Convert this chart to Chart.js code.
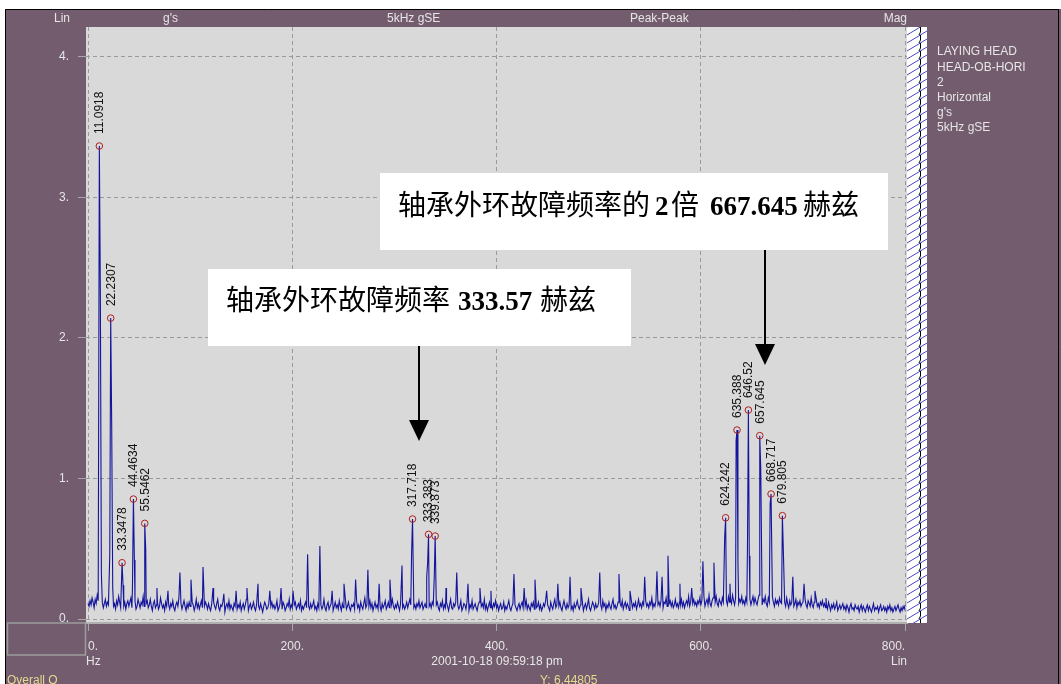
<!DOCTYPE html>
<html>
<head>
<meta charset="utf-8">
<script src="https://cdn.jsdelivr.net/npm/chart.js@4/dist/chart.umd.min.js"></script>
<style>
  html, body { margin: 0; padding: 0; background: #ffffff; overflow: hidden; }
  canvas { display: block; }
</style>
</head>
<body>
<canvas id="spectrum" width="1061" height="684"></canvas>
<script>
// Spectrum of the laying head bearing, HEAD-OB-HORI, 5kHz gSE envelope, peak-peak

// Labelled peaks (Hz, g's)
const peakFreqs = [11.0918, 22.2307, 33.3478, 44.4634, 55.5462, 317.718, 333.383, 339.873,
                   624.242, 635.388, 646.52, 657.645, 668.717, 679.805];
const peakAmps  = [3.364, 2.14, 0.40, 0.853, 0.68, 0.711, 0.602, 0.59,
                   0.72, 1.344, 1.486, 1.304, 0.889, 0.735];

// Unlabelled lines: neighbouring bins of the peaks and the smaller harmonics (Hz, g's)
const lineFreqs = [12.1, 13.1, 21.3, 23.2, 24.2, 34.3, 43.5, 45.4, 56.5,
                   67.5, 78.3, 90.0, 100.8, 112.6, 122.4, 133.0, 145.0, 155.6, 166.4, 178.0, 189.0, 200.7,
                   215.0, 227.0, 239.0, 250.6, 262.0, 274.0, 285.0, 295.6, 307.4, 316.8,
                   331.6, 332.5, 339.0, 350.5, 361.0, 372.0, 383.7, 394.5, 417.0, 427.0, 437.6,
                   449.0, 460.0, 471.9, 482.6, 501.0, 519.8, 530.6, 545.0, 557.0, 562.0, 567.8,
                   579.5, 591.0, 602.0, 612.8, 623.3, 628.5, 634.5, 636.3, 645.6, 647.4, 658.6,
                   667.8, 680.7, 690.0, 701.0, 711.7, 722.5];
const lineAmps  = [2.30, 0.32, 0.45, 1.38, 0.22, 0.24, 0.22, 0.42, 0.50,
                   0.22, 0.20, 0.33, 0.28, 0.37, 0.22, 0.18, 0.20, 0.22, 0.25, 0.20, 0.22, 0.20,
                   0.46, 0.52, 0.20, 0.25, 0.28, 0.35, 0.25, 0.28, 0.38, 0.47,
                   0.30, 0.40, 0.30, 0.22, 0.33, 0.25, 0.22, 0.20, 0.32, 0.22, 0.28,
                   0.20, 0.25, 0.30, 0.22, 0.33, 0.32, 0.20, 0.30, 0.34, 0.30, 0.45,
                   0.25, 0.22, 0.41, 0.40, 0.58, 0.25, 1.27, 0.40, 0.50, 0.45, 1.08,
                   0.82, 0.50, 0.30, 0.25, 0.20, 0.15];

// Noise floor, one value per 1 Hz bin from 0 to 800 Hz (g's)
const floorStepHz = 1;
const floorAmps = [
  .11,.09,.13,.10,.15,.12,.08,.14,.11,.17,.13,.10,.09,.16,.12,.08,.11,.14,.09,.12,
  .10,.13,.08,.12,.15,.09,.11,.07,.13,.10,.16,.12,.08,.10,.14,.09,.12,.07,.11,.13,
  .09,.12,.15,.08,.11,.10,.13,.07,.09,.14,.11,.08,.12,.10,.16,.09,.07,.11,.13,.08,
  .10,.14,.09,.06,.11,.13,.08,.10,.12,.07,.09,.15,.11,.08,.10,.06,.12,.09,.14,.10,
  .07,.11,.09,.13,.08,.06,.10,.12,.09,.15,.08,.11,.07,.10,.13,.09,.06,.11,.08,.12,
  .09,.07,.12,.10,.06,.09,.14,.08,.11,.07,.10,.13,.08,.06,.09,.12,.10,.07,.11,.08,
  .06,.10,.08,.12,.09,.07,.11,.14,.08,.06,.10,.09,.12,.07,.05,.09,.11,.08,.13,.07,
  .10,.08,.06,.11,.09,.13,.07,.10,.08,.12,.06,.09,.11,.07,.10,.14,.08,.06,.09,.11,
  .07,.09,.12,.08,.06,.10,.13,.09,.07,.11,.08,.05,.09,.12,.10,.07,.08,.11,.06,.09,
  .12,.08,.10,.07,.09,.13,.06,.08,.11,.09,.07,.12,.10,.06,.08,.11,.09,.14,.07,.10,
  .08,.06,.10,.12,.07,.09,.11,.08,.13,.06,.09,.07,.10,.12,.08,.15,.09,.07,.11,.08,
  .10,.13,.07,.09,.06,.11,.08,.12,.10,.07,.09,.14,.08,.06,.10,.12,.07,.09,.11,.08,
  .06,.09,.12,.08,.10,.07,.13,.09,.06,.11,.08,.10,.14,.07,.09,.12,.08,.06,.10,.09,
  .11,.07,.09,.13,.08,.10,.06,.12,.09,.07,.11,.15,.08,.10,.07,.09,.13,.08,.11,.06,
  .09,.12,.08,.10,.07,.14,.09,.06,.11,.08,.10,.13,.07,.09,.12,.08,.06,.10,.14,.09,
  .07,.10,.08,.12,.09,.06,.11,.13,.08,.10,.07,.09,.12,.08,.11,.14,.10,.09,.12,.08,
  .10,.07,.11,.09,.13,.08,.10,.12,.07,.09,.11,.08,.10,.13,.09,.11,.08,.12,.10,.09,
  .07,.10,.12,.08,.06,.11,.09,.13,.07,.10,.08,.12,.09,.06,.10,.14,.08,.07,.11,.09,
  .12,.08,.10,.07,.09,.13,.06,.08,.11,.10,.07,.12,.09,.06,.10,.08,.13,.07,.09,.11,
  .08,.06,.10,.12,.07,.09,.11,.08,.14,.07,.10,.06,.09,.12,.08,.10,.07,.11,.09,.13,
  .08,.10,.06,.09,.11,.07,.08,.12,.06,.09,.07,.10,.13,.08,.06,.09,.11,.07,.10,.08,
  .06,.09,.11,.07,.10,.12,.08,.06,.09,.13,.07,.10,.08,.06,.11,.09,.12,.07,.10,.08,
  .09,.12,.07,.10,.06,.08,.11,.09,.13,.07,.10,.08,.06,.12,.09,.07,.11,.14,.08,.10,
  .07,.09,.12,.08,.06,.10,.13,.09,.07,.11,.08,.10,.12,.07,.09,.06,.11,.08,.10,.13,
  .09,.07,.10,.08,.12,.06,.09,.11,.07,.10,.14,.08,.06,.09,.12,.10,.07,.11,.08,.09,
  .12,.08,.10,.07,.13,.09,.11,.06,.10,.08,.12,.09,.07,.11,.14,.08,.10,.07,.09,.12,
  .08,.11,.09,.13,.07,.10,.12,.08,.11,.09,.06,.10,.13,.08,.11,.09,.12,.07,.10,.14,
  .09,.11,.08,.12,.10,.07,.13,.09,.11,.08,.12,.10,.15,.08,.11,.09,.13,.07,.10,.12,
  .09,.13,.10,.08,.12,.11,.15,.09,.07,.11,.13,.09,.12,.08,.10,.14,.09,.11,.08,.12,
  .10,.14,.09,.12,.08,.11,.13,.10,.16,.09,.12,.08,.11,.14,.10,.12,.09,.13,.11,.15,
  .10,.13,.11,.16,.09,.12,.14,.10,.17,.11,.09,.13,.15,.10,.12,.16,.11,.09,.14,.12,
  .10,.15,.12,.18,.11,.13,.10,.16,.12,.14,.11,.17,.13,.10,.15,.12,.18,.11,.14,.12,
  .16,.11,.13,.10,.15,.12,.17,.11,.14,.10,.13,.16,.11,.15,.12,.10,.14,.17,.11,.13,
  .10,.14,.12,.16,.11,.09,.15,.12,.13,.10,.16,.12,.09,.14,.11,.13,.10,.15,.12,.11,
  .14,.10,.12,.09,.15,.11,.08,.13,.10,.12,.16,.09,.11,.14,.08,.12,.10,.13,.09,.11,
  .12,.09,.14,.10,.08,.13,.11,.09,.15,.10,.08,.12,.10,.14,.09,.11,.08,.12,.10,.13,
  .09,.11,.08,.10,.07,.12,.09,.06,.10,.08,.11,.07,.09,.12,.06,.08,.10,.07,.09,.11,
  .07,.09,.06,.10,.08,.05,.09,.11,.07,.08,.06,.10,.08,.07,.09,.05,.08,.10,.06,.09,
  .07,.05,.08,.10,.06,.09,.07,.05,.08,.11,.06,.08,.07,.09,.05,.08,.10,.06,.07,.09,
  .06,.08,.05,.09,.07,.10,.06,.08,.05,.07,.09,.06,.08,.10,.07,.05,.08,.06,.09,.07,
  .10
];

// Axis ticks
const freqTicks = [0, 200, 400, 600, 800];
const ampTicks  = [0, 1, 2, 3, 4];

// Header and side captions
const headerTexts = [['Lin', 70, 'right'], ["g's", 163, 'left'], ['5kHz gSE', 387, 'left'],
                     ['Peak-Peak', 630, 'left'], ['Mag', 907, 'right']];
const pointInfo = ['LAYING HEAD', 'HEAD-OB-HORI', '2', 'Horizontal', "g's", '5kHz gSE'];

// Build the trace: floor bins plus the measured lines, sorted by frequency
function buildTrace() {
  const lines = [];
  peakFreqs.forEach((f, i) => lines.push({ x: f, y: peakAmps[i] }));
  lineFreqs.forEach((f, i) => lines.push({ x: f, y: lineAmps[i] }));
  const pts = lines.slice();
  floorAmps.forEach((a, i) => {
    const f = i * floorStepHz;
    if (!lines.some(p => Math.abs(p.x - f) < 0.5)) pts.push({ x: f, y: a });
  });
  pts.sort((p, q) => p.x - q.x);
  return pts;
}

const PURPLE = '#735c6e';
const PLOT_BG = '#d9d9d9';
const TEXT_LIGHT = '#e6e6e6';
const TEXT_YELLOW = '#e6d98f';
const UI_FONT = '"Liberation Sans", Arial, sans-serif';

const framePlugin = {
  id: 'frame',
  beforeDraw(chart) {
    const { ctx, chartArea: a, width, height } = chart;
    ctx.save();
    ctx.fillStyle = '#ffffff';
    ctx.fillRect(0, 0, width, height);
    ctx.fillStyle = PURPLE;
    ctx.fillRect(5, 9, width - 5, height - 9);
    ctx.strokeStyle = '#000000';
    ctx.lineWidth = 1;
    ctx.beginPath();
    ctx.moveTo(5.5, height); ctx.lineTo(5.5, 9.5); ctx.lineTo(1058.5, 9.5); ctx.lineTo(1058.5, height);
    ctx.stroke();
    ctx.fillStyle = PLOT_BG;
    ctx.fillRect(a.left, a.top, a.right - a.left, a.bottom - a.top);
    ctx.restore();
  }
};

const decorPlugin = {
  id: 'decor',
  afterDraw(chart) {
    const { ctx, chartArea: a } = chart;
    const xs = chart.scales.x, ys = chart.scales.y;
    ctx.save();

    // hatched strip right of the plot
    const sx = a.right, sw = 20;
    ctx.fillStyle = '#ffffff';
    ctx.fillRect(sx, a.top, sw, a.bottom - a.top);
    ctx.save();
    ctx.beginPath(); ctx.rect(sx, a.top, sw, a.bottom - a.top); ctx.clip();
    ctx.strokeStyle = '#4848c0';
    ctx.lineWidth = 1;
    for (let y = a.top - 20; y < a.bottom + 20; y += 8) {
      ctx.beginPath(); ctx.moveTo(sx, y + 12); ctx.lineTo(sx + sw, y); ctx.stroke();
    }
    ctx.strokeStyle = '#000000';
    ctx.beginPath();
    for (let y = a.top; y < a.bottom; y += 8) {
      ctx.moveTo(sx + 13.5, y); ctx.lineTo(sx + 13.5, y + 5); ctx.lineTo(sx + 12, y + 8);
    }
    ctx.stroke();
    ctx.restore();

    // header captions
    ctx.font = '12px ' + UI_FONT;
    ctx.fillStyle = TEXT_LIGHT;
    ctx.textBaseline = 'middle';
    headerTexts.forEach(([t, x, al]) => { ctx.textAlign = al; ctx.fillText(t, x, 19); });

    // measurement point info
    ctx.textAlign = 'left';
    pointInfo.forEach((t, i) => ctx.fillText(t, 937, 52 + i * 15.2));

    // footer
    ctx.fillText('Hz', a.left, 662);
    ctx.textAlign = 'center';
    ctx.fillText('2001-10-18 09:59:18 pm', 497, 662);
    ctx.textAlign = 'right';
    ctx.fillText('Lin', a.right, 662);
    ctx.textAlign = 'left';
    ctx.textBaseline = 'top';
    ctx.fillStyle = TEXT_YELLOW;
    ctx.fillText('Overall O', 7, 675);
    ctx.fillText('Y: 6.44805', 540, 675);
    ctx.strokeStyle = '#9c9c9c';
    ctx.lineWidth = 1.5;
    ctx.strokeRect(7.5, a.bottom, a.left - 8, 32);

    // peak frequency labels, rotated
    ctx.fillStyle = '#111111';
    ctx.font = '12px ' + UI_FONT;
    ctx.textAlign = 'left';
    ctx.textBaseline = 'middle';
    peakFreqs.forEach((f, i) => {
      const px = xs.getPixelForValue(f), py = ys.getPixelForValue(peakAmps[i]);
      ctx.save();
      ctx.translate(px + 0.5, py - 12);
      ctx.rotate(-Math.PI / 2);
      ctx.fillText(String(f), 0, 0);
      ctx.restore();
    });

    // annotation boxes with arrows
    const cjk = '28px "Noto Sans CJK SC", sans-serif';
    const num = 'bold 27px "Liberation Serif", "Times New Roman", serif';
    ctx.textBaseline = 'alphabetic';
    ctx.textAlign = 'left';

    ctx.fillStyle = '#ffffff';
    ctx.fillRect(208, 269, 423, 77);
    ctx.fillRect(380, 173, 508, 77);

    ctx.fillStyle = '#000000';
    ctx.font = cjk; ctx.fillText('轴承外环故障频率', 226, 310);
    ctx.font = num; ctx.fillText('333.57', 458, 310);
    ctx.font = cjk; ctx.fillText('赫兹', 540, 310);

    ctx.font = cjk; ctx.fillText('轴承外环故障频率的', 398, 215);
    ctx.font = num; ctx.fillText('2', 655, 215);
    ctx.font = cjk; ctx.fillText('倍', 671, 215);
    ctx.font = num; ctx.fillText('667.645', 710, 215);
    ctx.font = cjk; ctx.fillText('赫兹', 803, 215);

    const arrow = (x, y0, y1) => {
      ctx.strokeStyle = '#000000';
      ctx.lineWidth = 2;
      ctx.beginPath(); ctx.moveTo(x, y0); ctx.lineTo(x, y1 - 18); ctx.stroke();
      ctx.beginPath();
      ctx.moveTo(x - 10, y1 - 21); ctx.lineTo(x + 10, y1 - 21); ctx.lineTo(x, y1);
      ctx.closePath(); ctx.fill();
    };
    arrow(419, 346, 441);
    arrow(765, 250, 365);

    ctx.restore();
  }
};

const trace = buildTrace();
const peakPoints = peakFreqs.map((f, i) => ({ x: f, y: peakAmps[i] }));

new Chart(document.getElementById('spectrum'), {
  type: 'line',
  data: {
    datasets: [
      {
        type: 'scatter',
        data: peakPoints,
        pointStyle: 'circle',
        pointRadius: 3.3,
        pointBorderWidth: 1,
        pointBorderColor: '#b01e1e',
        pointBackgroundColor: 'rgba(0,0,0,0)',
        showLine: false
      },
      {
        type: 'line',
        data: trace,
        borderColor: '#14149c',
        borderWidth: 1.1,
        pointRadius: 0,
        tension: 0,
        fill: false
      }
    ]
  },
  options: {
    responsive: false,
    animation: false,
    devicePixelRatio: 1,
    events: [],
    layout: { padding: { left: 0, top: 27, right: 154, bottom: 21 } },
    plugins: { legend: { display: false }, tooltip: { enabled: false } },
    scales: {
      x: {
        type: 'linear',
        min: -1.96,
        max: 801.8,
        afterBuildTicks: s => { s.ticks = freqTicks.map(v => ({ value: v })); },
        afterFit: s => { s.height = 40; },
        ticks: {
          callback: v => v + '.',
          color: TEXT_LIGHT,
          font: { family: UI_FONT, size: 12 },
          align: 'inner',
          maxRotation: 0,
          autoSkip: false,
          padding: 8
        },
        grid: {
          color: '#9a9a9a',
          lineWidth: 1,
          tickLength: 8,
          tickColor: '#a8a8a8',
          tickBorderDash: []
        },
        border: { display: true, color: '#b0b0b0', width: 2, dash: [4, 3] }
      },
      y: {
        type: 'linear',
        min: -0.0284,
        max: 4.2105,
        afterBuildTicks: s => { s.ticks = ampTicks.map(v => ({ value: v })); },
        afterFit: s => { s.width = 86; },
        ticks: {
          callback: v => v + '.',
          color: TEXT_LIGHT,
          font: { family: UI_FONT, size: 12 },
          padding: 9
        },
        grid: {
          color: '#9a9a9a',
          lineWidth: 1,
          tickLength: 8,
          tickColor: '#a8a8a8',
          tickBorderDash: []
        },
        border: { display: false, dash: [4, 3] }
      }
    }
  },
  plugins: [framePlugin, decorPlugin]
});
</script>
</body>
</html>
